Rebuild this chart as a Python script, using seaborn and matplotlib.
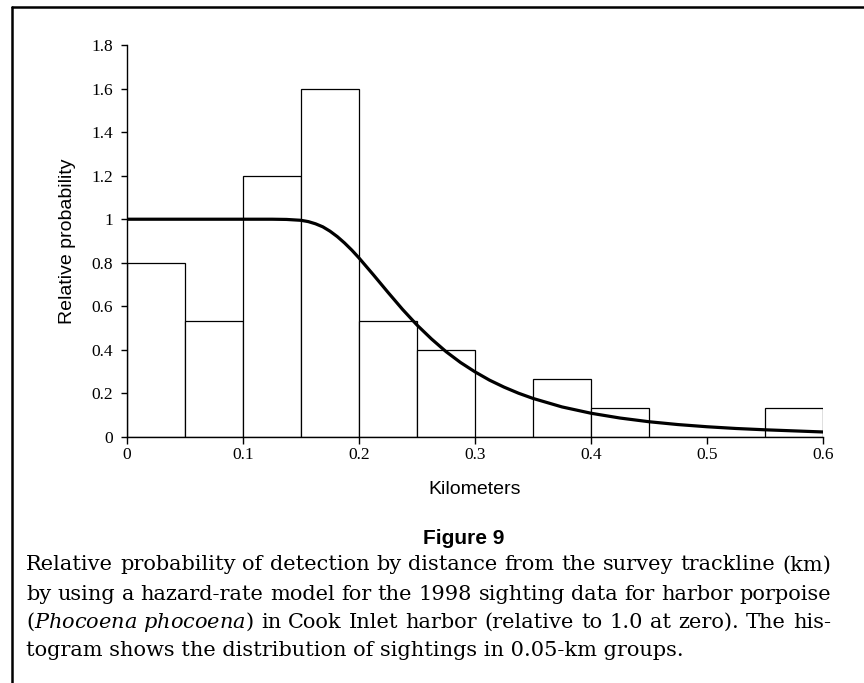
import matplotlib
matplotlib.use("Agg")
import matplotlib.pyplot as plt
from matplotlib.lines import Line2D
import seaborn as sns
import numpy as np

# histogram of sightings, 0.05-km groups (relative probability)
bin_edges = [0.0, 0.05, 0.1, 0.15, 0.2, 0.25, 0.3, 0.35, 0.4, 0.45, 0.5, 0.55, 0.6]
bar_heights = [0.8, 0.533, 1.2, 1.6, 0.533, 0.4, 0.0, 0.267, 0.133, 0.0, 0.0, 0.133]

# hazard-rate detection curve
curve_x = [0.0, 0.05, 0.1, 0.125, 0.1375, 0.15, 0.1563, 0.1625, 0.1688, 0.175, 0.1813,
           0.1875, 0.1938, 0.2, 0.2125, 0.225, 0.2375, 0.25, 0.2625, 0.275, 0.2875,
           0.3, 0.3125, 0.325, 0.3375, 0.35, 0.375, 0.4, 0.425, 0.45, 0.475, 0.5,
           0.525, 0.55, 0.575, 0.6]
curve_y = [1.0, 1.0, 1.0, 1.0, 0.999, 0.995, 0.989, 0.979, 0.965, 0.945, 0.920,
           0.891, 0.858, 0.822, 0.744, 0.664, 0.586, 0.514, 0.450, 0.392, 0.342,
           0.299, 0.261, 0.229, 0.201, 0.177, 0.138, 0.109, 0.087, 0.070, 0.057, 0.047,
           0.039, 0.033, 0.028, 0.023]

x_ticks = [0, 0.1, 0.2, 0.3, 0.4, 0.5, 0.6]
x_ticklabels = ["0", "0.1", "0.2", "0.3", "0.4", "0.5", "0.6"]
y_ticks = [0, 0.2, 0.4, 0.6, 0.8, 1.0, 1.2, 1.4, 1.6, 1.8]
y_ticklabels = ["0", "0.2", "0.4", "0.6", "0.8", "1", "1.2", "1.4", "1.6", "1.8"]

caption_lines = [
    "Relative probability of detection by distance from the survey trackline (km)",
    "by using a hazard-rate model for the 1998 sighting data for harbor porpoise",
    r"($\mathit{Phocoena}$ $\mathit{phocoena}$) in Cook Inlet harbor (relative to 1.0 at zero). The his-",
    "togram shows the distribution of sightings in 0.05-km groups.",
]

sns.set_style("ticks")
plt.rcParams["font.family"] = ["Liberation Serif", "DejaVu Serif"]
plt.rcParams["mathtext.fontset"] = "dejavuserif"
plt.rcParams["text.color"] = "black"
plt.rcParams["axes.labelcolor"] = "black"
plt.rcParams["xtick.color"] = "black"
plt.rcParams["ytick.color"] = "black"

fig = plt.figure(figsize=(8.64, 6.83), dpi=100)
ax = fig.add_axes([0.147, 0.3602, 0.8056, 0.5739])

centers = [(a + b) / 2 for a, b in zip(bin_edges[:-1], bin_edges[1:])]
sns.histplot(x=centers, weights=bar_heights, bins=bin_edges, ax=ax,
             color="white", edgecolor="black", linewidth=0.9, alpha=1.0)
sns.lineplot(x=curve_x, y=curve_y, ax=ax, color="black", linewidth=2.3)

ax.set_xlim(0, 0.6)
ax.set_ylim(0, 1.8)
ax.set_xticks(x_ticks)
ax.set_xticklabels(x_ticklabels)
ax.set_yticks(y_ticks)
ax.set_yticklabels(y_ticklabels)
ax.tick_params(axis="both", labelsize=12.5, labelcolor="black")
ax.tick_params(axis="y", direction="out", length=4, width=1, pad=6)
ax.tick_params(axis="x", direction="out", length=5, width=1, pad=2)
for side in ["top", "right"]:
    ax.spines[side].set_visible(False)
for side in ["left", "bottom"]:
    ax.spines[side].set_color("black")
    ax.spines[side].set_linewidth(1.0)

ax.set_xlabel("Kilometers", family="Liberation Sans", fontsize=14, labelpad=13)
ax.set_ylabel("Relative probability", family="Liberation Sans", fontsize=14, labelpad=11)

# caption
fig.text(0.537, 1 - 538 / 683, "Figure 9", ha="center", va="center", fontsize=15,
         fontweight="bold", family=["Liberation Sans Narrow", "Liberation Sans"])

renderer = fig.canvas.get_renderer()
x_left, x_right = 26 / 864, 831 / 864
line_y = [565, 594, 622, 650]
cap_kw = dict(fontsize=15, family=["DejaVu Serif"], va="center", ha="left")
for i, line in enumerate(caption_lines):
    y = 1 - line_y[i] / 683
    if i == len(caption_lines) - 1:
        fig.text(x_left, y, line, **cap_kw)
        continue
    words = line.split(" ")
    # keep the italic pair together as one chunk
    chunks = []
    for w in words:
        if chunks and chunks[-1].endswith("$") and w.startswith("$"):
            chunks[-1] = chunks[-1] + r"$\ $" + w
        else:
            chunks.append(w)
    texts = [fig.text(0, y, c, **cap_kw) for c in chunks]
    widths = [t.get_window_extent(renderer).width / fig.bbox.width for t in texts]
    gap = (x_right - x_left - sum(widths)) / (len(chunks) - 1)
    x = x_left
    for t, w in zip(texts, widths):
        t.set_x(x)
        x += w + gap

# frame: top and left rules
fig.add_artist(Line2D([12 / 864, 1.0], [1 - 7 / 683, 1 - 7 / 683],
                      transform=fig.transFigure, color="black", linewidth=1.8))
fig.add_artist(Line2D([12 / 864, 12 / 864], [0.0, 1 - 7 / 683],
                      transform=fig.transFigure, color="black", linewidth=1.8))

fig.savefig("out.png", dpi=100)
